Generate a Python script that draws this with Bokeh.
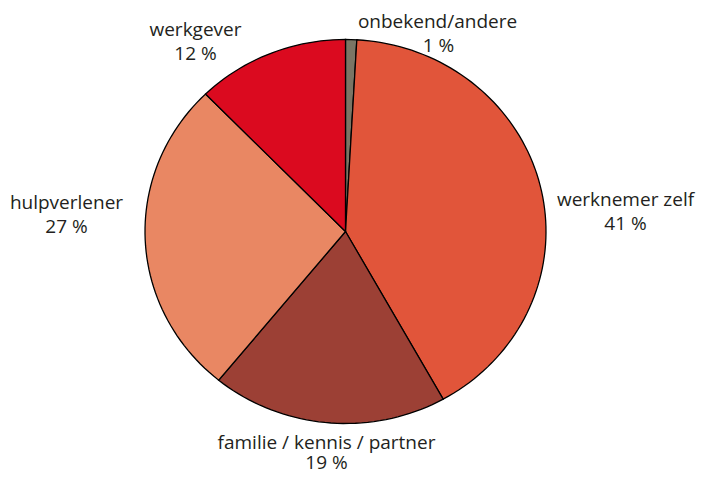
import numpy as np
from bokeh.plotting import figure
from bokeh.models import Range1d, ColumnDataSource
from bokeh.core.properties import value
from bokeh.embed import file_html
from bokeh.resources import INLINE

# ---- data (clockwise from 12 o'clock) ----
categories = ["onbekend/andere", "werknemer zelf", "familie / kennis / partner",
              "hulpverlener", "werkgever"]
shares = [0.9, 41.0, 19.0, 26.8, 12.3]
pct_labels = ["1 %", "41 %", "19 %", "27 %", "12 %"]
colors = ["#7a7565", "#e1553a", "#9c4035", "#e98763", "#db0a1f"]

# ---- layout (pixels in the 696x477 canvas) ----
W, H = 696, 477
CX, CY = 345.0, 231.0          # pie centre in canvas pixels
RX, RY = 200.5, 192.0          # pie radii in pixels
label_px = [(437, 20), (625, 198), (326, 441), (66, 201), (195, 28)]
pct_px = [(438, 44), (625, 222), (326, 461), (66, 225), (195, 52)]

def to_data(px, py):
    return (px - CX) / RX, (CY - py) / RY

p = figure(width=W, height=H,
           x_range=Range1d(-CX / RX, (W - CX) / RX),
           y_range=Range1d(-(H - CY) / RY, CY / RY),
           x_axis_type=None, y_axis_type=None,
           toolbar_location=None, output_backend="svg", min_border=0)
p.grid.visible = False
p.outline_line_color = None
p.background_fill_color = "white"
p.border_fill_color = "white"

# ---- pie slices as patches on the unit circle ----
total = sum(shares)
xs, ys = [], []
start = 0.0
for s in shares:
    end = start + s / total * 2 * np.pi
    n = max(3, int(200 * s / total) + 2)
    t = np.linspace(start, end, n)
    xs.append([0.0] + list(np.sin(t)) + [0.0])
    ys.append([0.0] + list(np.cos(t)) + [0.0])
    start = end

src = ColumnDataSource(dict(xs=xs, ys=ys, color=colors, name=categories))
p.patches("xs", "ys", source=src, fill_color="color", line_color="black",
          line_width=1.3, line_join="miter")

# ---- labels ----
lx, ly = zip(*[to_data(*q) for q in label_px])
px_, py_ = zip(*[to_data(*q) for q in pct_px])
p.text(x=list(lx), y=list(ly), text=categories, text_align="center",
       text_baseline="middle", text_font=value("Open Sans"),
       text_font_size="19px", text_color="#231f20")
p.text(x=list(px_), y=list(py_), text=pct_labels, text_align="center",
       text_baseline="middle", text_font=value("Open Sans"),
       text_font_size="19px", text_color="#231f20")

open("out.html", "w").write(file_html(p, INLINE))
